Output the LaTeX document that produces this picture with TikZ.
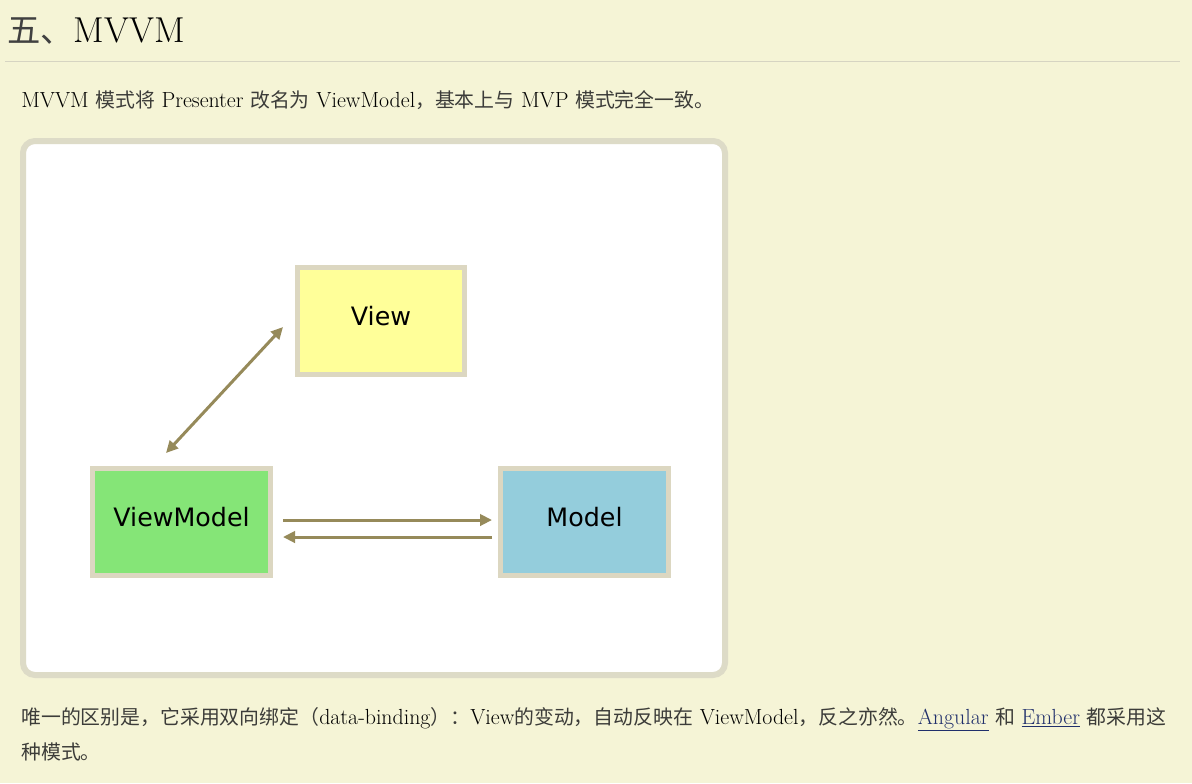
\documentclass[tikz,border=0pt]{standalone}
\usepackage{fontspec}
\usepackage{tikz}
\usetikzlibrary{arrows.meta}
\newfontfamily\cjk{Noto Sans CJK SC}
\newfontfamily\boxfont{DejaVu Sans}
\definecolor{page cream}{rgb}{0.9608, 0.9569, 0.8392}
\definecolor{frame beige}{rgb}{0.8667, 0.8588, 0.7804}
\definecolor{box beige}{rgb}{0.8627, 0.8431, 0.7569}
\definecolor{view yellow}{rgb}{1.0000, 1.0000, 0.6000}
\definecolor{vm green}{rgb}{0.5216, 0.8980, 0.4667}
\definecolor{model blue}{rgb}{0.5804, 0.8039, 0.8627}
\definecolor{link olive}{rgb}{0.5882, 0.5412, 0.3529}
\definecolor{zh gray}{rgb}{0.2353, 0.2353, 0.2235}
\definecolor{anchor blue}{rgb}{0.1255, 0.1843, 0.4196}
\definecolor{rule gray}{rgb}{0.8392, 0.8314, 0.7608}
\newcommand{\zh}[1]{{\cjk\fontsize{14.9}{18}\selectfont\color{zh gray}#1}}
\newcommand{\weblink}[1]{{\color{anchor blue}\underline{#1}}}

\begin{document}
\begin{tikzpicture}[x=0.75pt, y=-0.75pt,
		mvbox/.style={draw=box beige, line width=3.75pt, inner sep=0pt,
			minimum height=80.25pt, text height=14pt, text depth=7.5pt,
			font=\boxfont\fontsize{19}{22}\selectfont},
		sync/.style={draw=link olive, line width=2.25pt,
			-{Triangle[length=9pt, width=8.5pt]}},
		para/.style={anchor=base west, inner sep=0pt,
			font=\fontsize{16.4}{18}\selectfont}]
			% page
			\fill[page cream] (0, 0) rectangle (1192, 783);
			\useasboundingbox (0, 0) rectangle (1192, 783);
			% heading and first line
			\node[anchor=base west, inner sep=0pt] (title) at (7, 42)
				{{\cjk\fontsize{25}{30}\selectfont\color{black!75} 五、}{\fontsize{27}{30}\selectfont MVVM}};
			\draw[rule gray, line width=0.75pt] (5, 61) -- (1180, 61);
			\node[para] (intro) at (21, 107)
				{MVVM \zh{模式将} Presenter \zh{改名为} ViewModel\zh{，基本上与} MVP \zh{模式完全一致。}};
			% frame
			\draw[frame beige, fill=white, line width=4.5pt, rounded corners=9pt]
				(23, 141) rectangle (725, 675);
			% boxes
			\node[mvbox, fill=view yellow, minimum width=125.25pt] (view) at (381, 321) {View};
			\node[mvbox, fill=vm green, minimum width=133.5pt] (vm) at (181.5, 522) {ViewModel};
			\node[mvbox, fill=model blue, minimum width=126pt] (model) at (584.5, 522) {Model};
			% arrows
			\draw[sync, {Triangle[length=9pt, width=8.5pt]}-{Triangle[length=9pt, width=8.5pt]}]
				([shift={(-15.5, -13)}]vm.north) -- ([shift={(-12, 6)}]view.west);
			\draw[sync] ([shift={(10, -2)}]vm.east) -- ([shift={(-6, -2)}]model.west);
			\draw[sync] ([shift={(-6, 15)}]model.west) -- ([shift={(10, 15)}]vm.east);
			% closing lines
			\node[para] (outro) at (21, 724)
				{\zh{唯一的区别是，它采用双向绑定（}data-binding\zh{）：}View\zh{的变动，自动反映在} ViewModel\zh{，反之亦然。}\weblink{Angular} \zh{和} \weblink{Ember} \zh{都采用这}};
			\node[para] (outro2) at (21, 759) {\zh{种模式。}};
		\end{tikzpicture}
\end{document}
